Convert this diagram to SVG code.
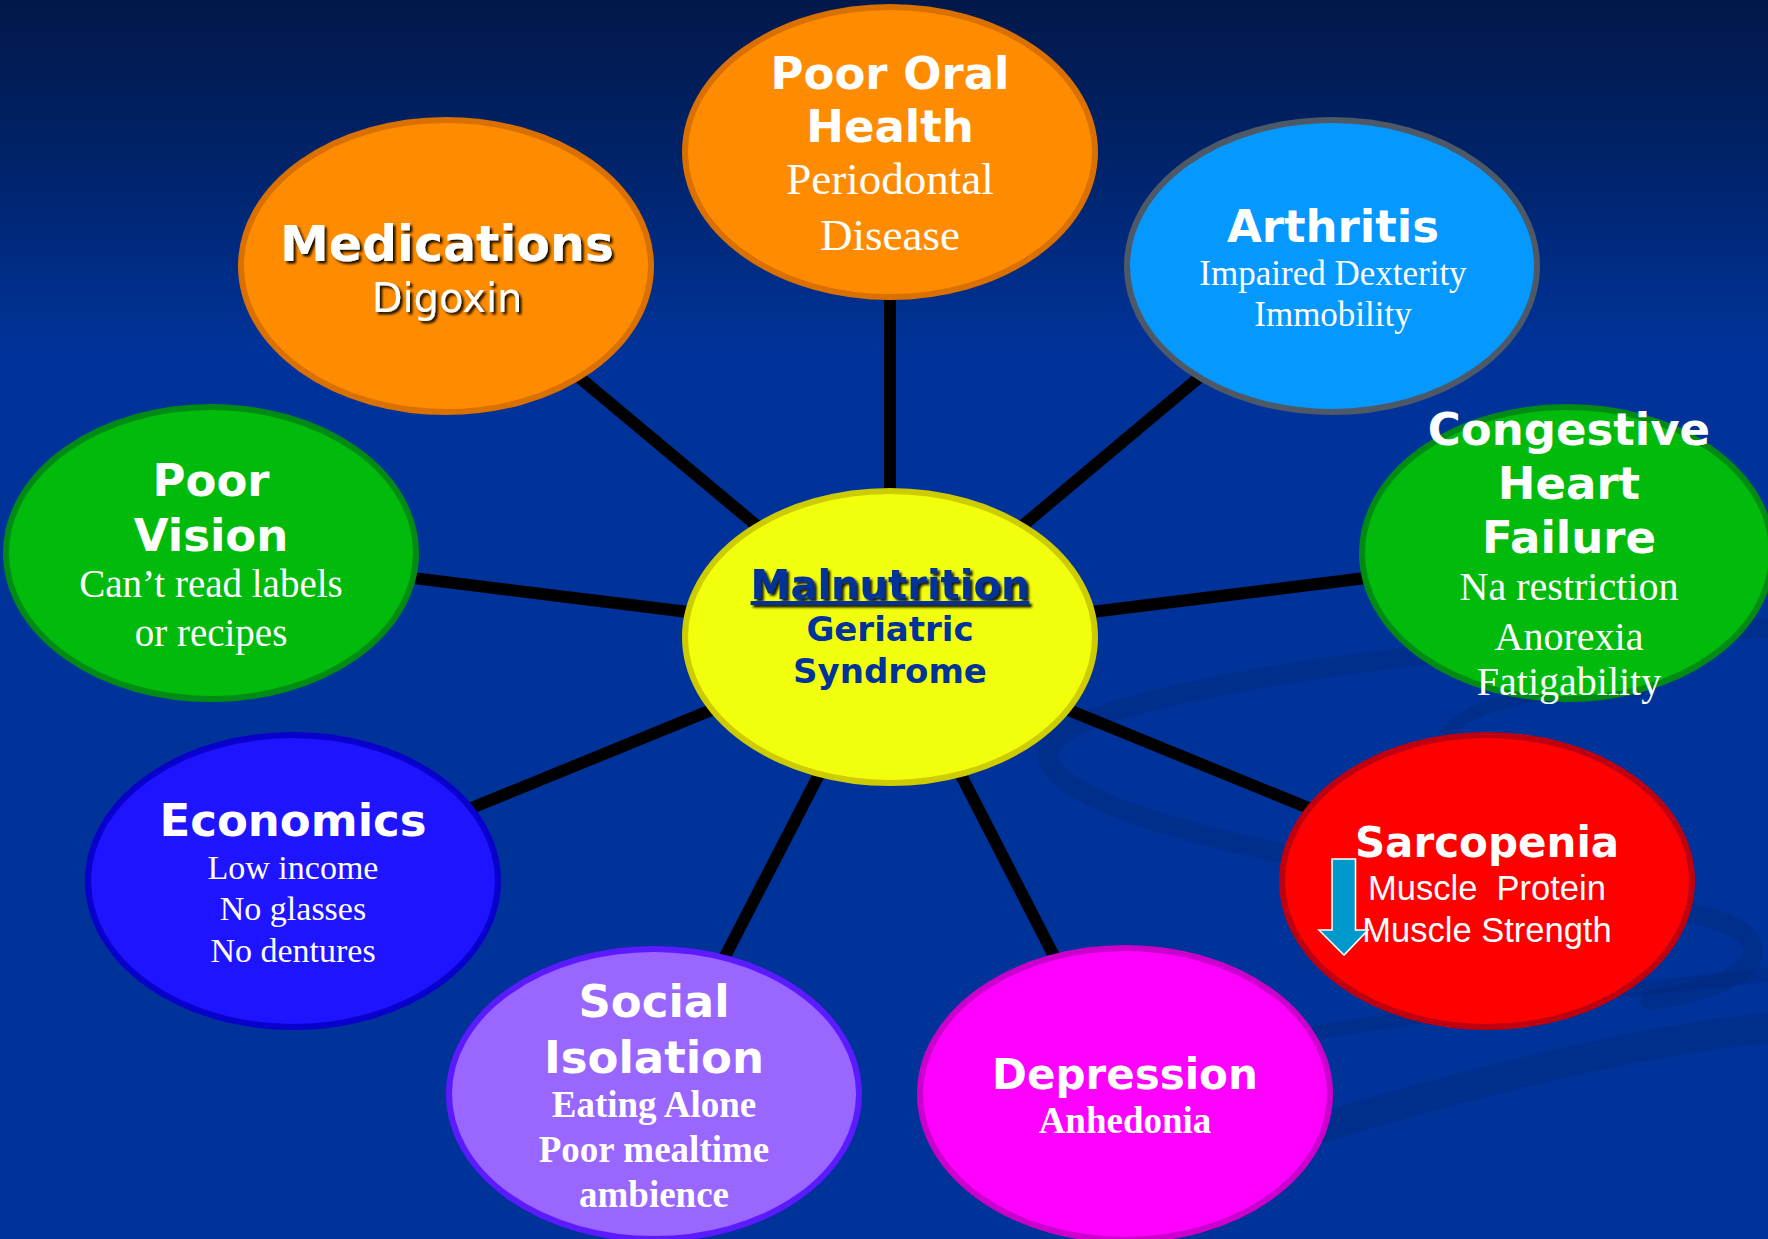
<svg xmlns="http://www.w3.org/2000/svg" width="1768" height="1239" viewBox="0 0 1768 1239">
<defs>
<linearGradient id="bg" x1="0" y1="0" x2="0" y2="1">
<stop offset="0" stop-color="#02184a"/>
<stop offset="0.12" stop-color="#002266"/>
<stop offset="0.28" stop-color="#003399"/>
<stop offset="1" stop-color="#003399"/>
</linearGradient>
<filter id="sh" x="-10%" y="-20%" width="120%" height="150%">
<feDropShadow dx="2.5" dy="2.5" stdDeviation="0.8" flood-color="#000" flood-opacity="0.9"/>
</filter>
<style>
.n{stroke-width:6}
.t{font-family:"DejaVu Sans",Verdana,sans-serif;font-weight:bold;fill:#fff;text-anchor:middle}
.s{font-family:"Liberation Serif","Times New Roman",serif;fill:#fff;text-anchor:middle}
.sb{font-family:"Liberation Serif","Times New Roman",serif;font-weight:bold;fill:#fff;text-anchor:middle}
.a{font-family:"Liberation Sans",Arial,sans-serif;fill:#fff;text-anchor:middle}
.c{font-family:"DejaVu Sans",Verdana,sans-serif;font-weight:bold;fill:#003399;text-anchor:middle}
.sw{fill:none;stroke:#00277a;stroke-opacity:0.4;stroke-linecap:round}
</style>
</defs>
<rect x="0" y="0" width="1768" height="1239" fill="url(#bg)"/>
<g id="swooshes">
<path class="sw" d="M1768 628 C1450 640 1120 690 1060 735 C1010 775 1120 820 1290 855 C1450 885 1700 895 1745 935 C1775 965 1720 990 1650 1000" stroke-width="20"/>
<path class="sw" d="M1445 735 C1470 700 1560 685 1640 690" stroke-width="14"/>
<path class="sw" d="M1300 1035 C1450 1010 1620 990 1768 975" stroke-width="14"/>
<path class="sw" d="M1320 1128 C1480 1080 1640 1040 1768 1028" stroke-width="30"/>
</g>
<g id="connectors" stroke="#000" stroke-width="12" stroke-linecap="butt">
<line x1="890" y1="637" x2="890" y2="152"/>
<line x1="890" y1="637" x2="446" y2="266"/>
<line x1="890" y1="637" x2="1332" y2="266"/>
<line x1="890" y1="637" x2="211" y2="553"/>
<line x1="890" y1="637" x2="1567" y2="553"/>
<line x1="890" y1="637" x2="293" y2="881"/>
<line x1="890" y1="637" x2="1487" y2="881"/>
<line x1="890" y1="637" x2="654" y2="1094"/>
<line x1="890" y1="637" x2="1125" y2="1094"/>
</g>
<g id="node-oral">
<ellipse class="n" cx="890" cy="152" rx="205" ry="145" fill="#ff8c00" stroke="#d97000"/>
<text class="t" x="890" y="89" font-size="45">Poor Oral</text>
<text class="t" x="890" y="142" font-size="45">Health</text>
<text class="s" x="890" y="194" font-size="45">Periodontal</text>
<text class="s" x="890" y="250" font-size="45">Disease</text>
</g>
<g id="node-medications">
<ellipse class="n" cx="446" cy="266" rx="205" ry="146" fill="#ff8c00" stroke="#d97000"/>
<text class="t" x="447" y="261" font-size="49" filter="url(#sh)">Medications</text>
<text class="t" x="447" y="312" font-size="40" style="font-weight:normal" filter="url(#sh)">Digoxin</text>
</g>
<g id="node-arthritis">
<ellipse class="n" cx="1332" cy="266" rx="205" ry="146" fill="#0599ff" stroke="#4d5966"/>
<text class="t" x="1333" y="242" font-size="45">Arthritis</text>
<text class="s" x="1333" y="285" font-size="35">Impaired Dexterity</text>
<text class="s" x="1333" y="326" font-size="35">Immobility</text>
</g>
<g id="node-vision">
<ellipse class="n" cx="211" cy="553" rx="205" ry="146" fill="#00bb0c" stroke="#008c14"/>
<text class="t" x="211" y="496" font-size="45">Poor</text>
<text class="t" x="211" y="551" font-size="45">Vision</text>
<text class="s" x="211" y="597" font-size="39">Can’t read labels</text>
<text class="s" x="211" y="646" font-size="39">or recipes</text>
</g>
<g id="node-chf">
<ellipse class="n" cx="1567" cy="553" rx="205" ry="146" fill="#00bb0c" stroke="#008c14"/>
<text class="t" x="1569" y="445" font-size="45">Congestive</text>
<text class="t" x="1569" y="499" font-size="45">Heart</text>
<text class="t" x="1569" y="553" font-size="45">Failure</text>
<text class="s" x="1569" y="600" font-size="40">Na restriction</text>
<text class="s" x="1569" y="650" font-size="40">Anorexia</text>
<text class="s" x="1569" y="695" font-size="40">Fatigability</text>
</g>
<g id="node-economics">
<ellipse class="n" cx="293" cy="881" rx="205" ry="146" fill="#1e14ff" stroke="#0a00cc"/>
<text class="t" x="293" y="836" font-size="45">Economics</text>
<text class="s" x="293" y="879" font-size="34">Low income</text>
<text class="s" x="293" y="920" font-size="34">No glasses</text>
<text class="s" x="293" y="962" font-size="34">No dentures</text>
</g>
<g id="node-sarcopenia">
<ellipse class="n" cx="1487" cy="881" rx="205" ry="146" fill="#ff0000" stroke="#bf0010"/>
<text class="t" x="1487" y="857" font-size="42">Sarcopenia</text>
<text class="a" x="1487" y="900" font-size="34.5" xml:space="preserve">Muscle  Protein</text>
<text class="a" x="1487" y="942" font-size="34.5">Muscle Strength</text>
<path d="M1332 859 H1355.5 V930 H1368 L1344 955 L1319 930 H1332 Z" fill="#0099cc" stroke="#fff" stroke-width="1.6"/>
</g>
<g id="node-social">
<ellipse class="n" cx="654" cy="1094" rx="205" ry="145" fill="#9966ff" stroke="#5c1aff"/>
<text class="t" x="654" y="1017" font-size="45">Social</text>
<text class="t" x="654" y="1073" font-size="45">Isolation</text>
<text class="sb" x="654" y="1117" font-size="37">Eating Alone</text>
<text class="sb" x="654" y="1162" font-size="37">Poor mealtime</text>
<text class="sb" x="654" y="1207" font-size="37">ambience</text>
</g>
<g id="node-depression">
<ellipse class="n" cx="1125" cy="1094" rx="205" ry="146" fill="#ff00ff" stroke="#cc00cc"/>
<text class="t" x="1125" y="1089" font-size="42">Depression</text>
<text class="sb" x="1125" y="1133" font-size="37">Anhedonia</text>
</g>
<g id="node-center">
<ellipse class="n" cx="890" cy="637" rx="205" ry="146" fill="#f2ff0c" stroke="#cccc00"/>
<text class="c" x="890" y="599" font-size="40" text-decoration="underline" filter="url(#sh)">Malnutrition</text>
<text class="c" x="890" y="641" font-size="34">Geriatric</text>
<text class="c" x="890" y="683" font-size="34">Syndrome</text>
</g>
</svg>
